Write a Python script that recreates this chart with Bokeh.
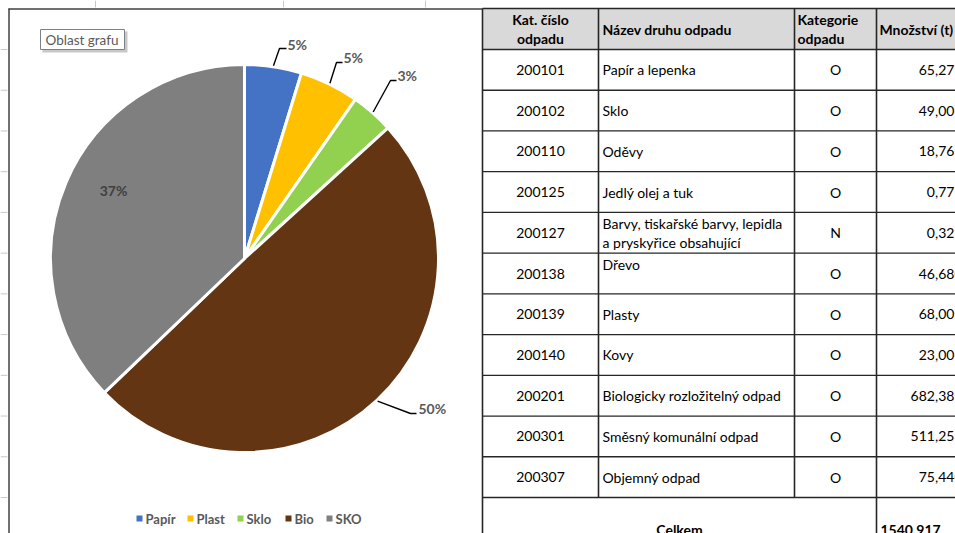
import math
from bokeh.plotting import figure
from bokeh.models import Range1d
from bokeh.core.properties import value
from bokeh.embed import file_html
from bokeh.resources import INLINE

# ---------------- data ----------------
categories = ["Papír", "Plast", "Sklo", "Bio", "SKO"]
amounts = [65.279, 68.003, 49.006, 682.389, 511.253]
pct_labels = ["5%", "5%", "3%", "50%", "37%"]
colors = ["#4472c4", "#ffc000", "#92d050", "#633512", "#7f7f7f"]

head_code = ["Kat. číslo", "odpadu"]
head_name = "Název druhu odpadu"
head_cat = ["Kategorie", "odpadu"]
head_qty = "Množství (t)"
codes = ["200101", "200102", "200110", "200125", "200127", "200138",
         "200139", "200140", "200201", "200301", "200307"]
names = ["Papír a lepenka", "Sklo", "Oděvy", "Jedlý olej a tuk",
         "Barvy, tiskařské barvy, lepidla\na pryskyřice obsahující", "Dřevo",
         "Plasty", "Kovy", "Biologicky rozložitelný odpad",
         "Směsný komunální odpad", "Objemný odpad"]
waste_cat = ["O", "O", "O", "O", "N", "O", "O", "O", "O", "O", "O"]
quantities = ["65,279", "49,006", "18,767", "0,771", "0,323", "46,680",
              "68,003", "23,006", "682,389", "511,253", "75,440"]
total_label = "Celkem"
total_qty = "1540,917"

# ---------------- layout ----------------
W, H = 955, 533
FONT = "Lato"
p = figure(width=W, height=H, x_range=Range1d(0, W), y_range=Range1d(-H, 0),
           output_backend="svg", toolbar_location=None, min_border=0,
           x_axis_type=None, y_axis_type=None, outline_line_color=None)
p.grid.visible = False
p.background_fill_color = "white"
p.border_fill_color = "white"

def Y(sy):
    return -sy

# table geometry (needed also for sheet row marks)
tx0, c1, c2, c3, tx1 = 482, 598, 794, 876, W + 5
top, hb = 8, 49
nrows = len(codes)
row_h = (497 - hb) / nrows
row_y = [hb + k * row_h for k in range(nrows + 1)]
bottom = 545

# faint sheet grid marks outside the chart area
p.segment(x0=[0] * (nrows + 1), x1=[7] * (nrows + 1), y0=[Y(v) for v in row_y], y1=[Y(v) for v in row_y],
          line_color="#c8c8c8", line_width=1)
p.segment(x0=[95, 283, 425], x1=[95, 283, 425], y0=[Y(0)] * 3, y1=[Y(7)] * 3,
          line_color="#c8c8c8", line_width=1)

# chart area border
p.segment(x0=[8.5, 8], y0=[Y(8), Y(8.5)], x1=[8.5, 482], y1=[Y(545), Y(8.5)],
          line_color="#404040", line_width=1.5)

# "Oblast grafu" tooltip
p.quad(left=[42], right=[127], top=[Y(31)], bottom=[Y(52)], fill_color="#c8c8c8", line_color=None)
p.quad(left=[40], right=[124], top=[Y(29)], bottom=[Y(49)], fill_color="white", line_color="#808080", line_width=1)
p.text(x=[45], y=[Y(39.5)], text=["Oblast grafu"], text_font=value(FONT), text_font_size="13.5px",
       text_color="#595959", text_baseline="middle", text_align="left")

# pie
cx, cy, r = 244, 258, 194
total = sum(amounts)
cum = [0.0]
for a in amounts:
    cum.append(cum[-1] + a / total)
starts = [math.pi / 2 - 2 * math.pi * c for c in cum[:-1]]
ends = [math.pi / 2 - 2 * math.pi * c for c in cum[1:]]
p.wedge(x=cx, y=Y(cy), radius=r, start_angle=starts, end_angle=ends, direction="clock",
        fill_color=colors, line_color="white", line_width=3)

# data labels with leader lines (start point from slice mid-angle)
label_end = [(279, 48), (336, 62), (390, 80), (410, 413), None]
label_tail = [7, 6, 6, 6, 0]
label_txt = [(287, 44), (343, 57), (397, 75), (418, 408), (113, 190)]
for i in range(len(amounts)):
    mid = 2 * math.pi * (cum[i] + cum[i + 1]) / 2
    if label_end[i] is not None:
        sx = cx + (r + 1) * math.sin(mid)
        sy = cy - (r + 1) * math.cos(mid)
        ex, ey = label_end[i]
        p.line(x=[sx, ex, ex + label_tail[i]], y=[Y(sy), Y(ey), Y(ey)], line_color="black", line_width=1.4)
        align = "left"
    else:
        align = "center"
    tx, ty = label_txt[i]
    p.text(x=[tx], y=[Y(ty)], text=[pct_labels[i]], text_font=value(FONT), text_font_size="14px",
           text_font_style="bold", text_color="#595959" if i < 4 else "#404040",
           text_baseline="middle", text_align=align)

# legend
leg_x = [139, 190, 240, 288, 329]
leg_y = 518
for i, c in enumerate(categories):
    p.rect(x=[leg_x[i]], y=[Y(leg_y)], width=6, height=6, fill_color=colors[i], line_color=None)
    p.text(x=[leg_x[i] + 6], y=[Y(leg_y)], text=[c], text_font=value(FONT), text_font_size="13px",
           text_font_style="bold", text_color="#595959", text_baseline="middle", text_align="left")

# ---------------- table ----------------
p.quad(left=[tx0], right=[tx1], top=[Y(top)], bottom=[Y(hb)], fill_color="#d9d9d9", line_color=None)
hy = [top] + row_y
p.segment(x0=[tx0] * len(hy), x1=[tx1] * len(hy), y0=[Y(v) for v in hy], y1=[Y(v) for v in hy],
          line_color="#262626", line_width=1.3)
p.segment(x0=[tx0, c1, c2, c3], x1=[tx0, c1, c2, c3],
          y0=[Y(top)] * 4, y1=[Y(bottom), Y(497), Y(497), Y(bottom)],
          line_color="#262626", line_width=1.6)

TF = "14px"
p.text(x=[(tx0 + c1) / 2] * 2, y=[Y(19), Y(38)], text=head_code, text_font=value(FONT), text_font_size=TF,
       text_font_style="bold", text_color="black", text_baseline="middle", text_align="center")
p.text(x=[c1 + 4], y=[Y(28.5)], text=[head_name], text_font=value(FONT), text_font_size=TF,
       text_font_style="bold", text_color="black", text_baseline="middle", text_align="left")
p.text(x=[c2 + 3] * 2, y=[Y(19), Y(38)], text=head_cat, text_font=value(FONT), text_font_size=TF,
       text_font_style="bold", text_color="black", text_baseline="middle", text_align="left")
p.text(x=[c3 + 3], y=[Y(28.5)], text=[head_qty], text_font=value(FONT), text_font_size=TF,
       text_font_style="bold", text_color="black", text_baseline="middle", text_align="left")

for k in range(nrows):
    yc = (row_y[k] + row_y[k + 1]) / 2
    p.text(x=[(tx0 + c1) / 2], y=[Y(yc)], text=[codes[k]], text_font=value(FONT), text_font_size=TF,
           text_color="black", text_baseline="middle", text_align="center")
    p.text(x=[(c2 + c3) / 2], y=[Y(yc)], text=[waste_cat[k]], text_font=value(FONT), text_font_size=TF,
           text_color="black", text_baseline="middle", text_align="center")
    p.text(x=[962], y=[Y(yc)], text=[quantities[k]], text_font=value(FONT), text_font_size=TF,
           text_color="black", text_baseline="middle", text_align="right")
    lines = names[k].split("\n")
    if len(lines) == 2:
        ys = [yc - 9.5, yc + 9.5]
    elif names[k] == "Dřevo":
        ys = [row_y[k] + 11]
    else:
        ys = [yc]
    p.text(x=[c1 + 4] * len(lines), y=[Y(v) for v in ys], text=lines, text_font=value(FONT),
           text_font_size=TF, text_color="black", text_baseline="middle", text_align="left")

p.text(x=[(tx0 + c3) / 2], y=[Y(529)], text=[total_label], text_font=value(FONT), text_font_size=TF,
       text_font_style="bold", text_color="black", text_baseline="middle", text_align="center")
p.text(x=[c3 + 4], y=[Y(529)], text=[total_qty], text_font=value(FONT), text_font_size=TF,
       text_font_style="bold", text_color="black", text_baseline="middle", text_align="left")

open("out.html", "w").write(file_html(p, INLINE))
